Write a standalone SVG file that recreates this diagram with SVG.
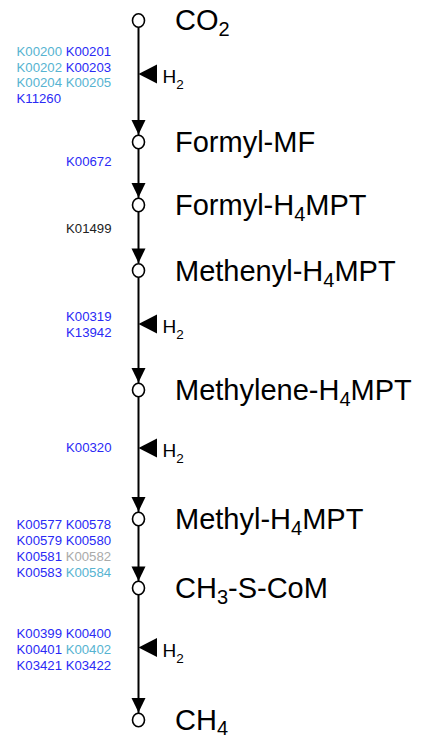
<svg xmlns="http://www.w3.org/2000/svg" width="427" height="738" viewBox="0 0 427 738">
<style>
.node ellipse{fill:#fff;stroke:#000;stroke-width:1.6}
.lbl{font-family:"Liberation Sans",Arial,sans-serif;font-size:29px;fill:#000}
.sub{font-size:20px}
.h2{font-family:"Liberation Sans",Arial,sans-serif;font-size:19px;fill:#000}
.h2s{font-size:13.5px}
.k{font-family:"Liberation Sans",Arial,sans-serif;font-size:13.2px}
.b{fill:#2a2af5}
.l{fill:#56b3d1}
.g{fill:#aaaaaa}
.d{fill:#222222}
.line{stroke:#000;stroke-width:2;fill:none}
.ah{fill:#000}
</style>
<rect width="427" height="738" fill="#fff"/>
<g id="connectors">
<line class="line" x1="138.5" y1="27" x2="138.5" y2="135"/>
<polygon class="ah" points="131.5,120 145.5,120 138.5,134.5"/>
<line class="line" x1="138.5" y1="149" x2="138.5" y2="198"/>
<polygon class="ah" points="131.5,183 145.5,183 138.5,197.5"/>
<line class="line" x1="138.5" y1="212" x2="138.5" y2="263"/>
<polygon class="ah" points="131.5,248.5 145.5,248.5 138.5,263"/>
<line class="line" x1="138.5" y1="277" x2="138.5" y2="383"/>
<polygon class="ah" points="131.5,368 145.5,368 138.5,382.5"/>
<line class="line" x1="138.5" y1="397" x2="138.5" y2="512"/>
<polygon class="ah" points="131.5,497 145.5,497 138.5,511.5"/>
<line class="line" x1="138.5" y1="526" x2="138.5" y2="581"/>
<polygon class="ah" points="131.5,566.5 145.5,566.5 138.5,581"/>
<line class="line" x1="138.5" y1="595" x2="138.5" y2="713"/>
<polygon class="ah" points="131.5,698 145.5,698 138.5,712.5"/>
</g>
<g id="cofactors">
<polygon class="ah" points="138.5,74 157,64.5 157,83.5"/>
<text class="h2" x="162.5" y="83">H<tspan class="h2s" dy="6">2</tspan></text>
<polygon class="ah" points="138.5,324 157,314.5 157,333.5"/>
<text class="h2" x="162.5" y="333">H<tspan class="h2s" dy="6">2</tspan></text>
<polygon class="ah" points="138.5,448 157,438.5 157,457.5"/>
<text class="h2" x="162.5" y="457">H<tspan class="h2s" dy="6">2</tspan></text>
<polygon class="ah" points="138.5,647.5 157,638 157,657"/>
<text class="h2" x="162.5" y="656.5">H<tspan class="h2s" dy="6">2</tspan></text>
</g>
<g id="enzymes">
<text class="k" x="16.5" y="56"><tspan class="l">K00200</tspan> <tspan class="b">K00201</tspan></text>
<text class="k" x="16.5" y="71.5"><tspan class="l">K00202</tspan> <tspan class="b">K00203</tspan></text>
<text class="k" x="16.5" y="87"><tspan class="l">K00204</tspan> <tspan class="l">K00205</tspan></text>
<text class="k b" x="16.5" y="102.5">K11260</text>
<text class="k b" x="111.5" y="166" text-anchor="end">K00672</text>
<text class="k d" x="111.5" y="233" text-anchor="end">K01499</text>
<text class="k b" x="111.5" y="321" text-anchor="end">K00319</text>
<text class="k b" x="111.5" y="337" text-anchor="end">K13942</text>
<text class="k b" x="111.5" y="452" text-anchor="end">K00320</text>
<text class="k" x="16.5" y="529"><tspan class="b">K00577</tspan> <tspan class="b">K00578</tspan></text>
<text class="k" x="16.5" y="545"><tspan class="b">K00579</tspan> <tspan class="b">K00580</tspan></text>
<text class="k" x="16.5" y="561"><tspan class="b">K00581</tspan> <tspan class="g">K00582</tspan></text>
<text class="k" x="16.5" y="577"><tspan class="b">K00583</tspan> <tspan class="l">K00584</tspan></text>
<text class="k" x="16.5" y="638"><tspan class="b">K00399</tspan> <tspan class="b">K00400</tspan></text>
<text class="k" x="16.5" y="654"><tspan class="b">K00401</tspan> <tspan class="l">K00402</tspan></text>
<text class="k" x="16.5" y="670"><tspan class="b">K03421</tspan> <tspan class="b">K03422</tspan></text>
</g>
<g id="n-co2" class="node">
<ellipse cx="138.5" cy="20.5" rx="6" ry="6.8"/>
<text class="lbl" x="175" y="30">CO<tspan class="sub" dy="6">2</tspan></text>
</g>
<g id="n-formyl-mf" class="node">
<ellipse cx="138.5" cy="142" rx="6" ry="6.8"/>
<text class="lbl" x="175" y="152">Formyl-MF</text>
</g>
<g id="n-formyl-h4mpt" class="node">
<ellipse cx="138.5" cy="205" rx="6" ry="6.8"/>
<text class="lbl" x="175" y="215">Formyl-H<tspan class="sub" dy="6">4</tspan><tspan dy="-6">MPT</tspan></text>
</g>
<g id="n-methenyl-h4mpt" class="node">
<ellipse cx="138.5" cy="270.5" rx="6" ry="6.8"/>
<text class="lbl" x="175" y="280.5">Methenyl-H<tspan class="sub" dy="6">4</tspan><tspan dy="-6">MPT</tspan></text>
</g>
<g id="n-methylene-h4mpt" class="node">
<ellipse cx="138.5" cy="390" rx="6" ry="6.8"/>
<text class="lbl" x="175" y="400">Methylene-H<tspan class="sub" dy="6">4</tspan><tspan dy="-6">MPT</tspan></text>
</g>
<g id="n-methyl-h4mpt" class="node">
<ellipse cx="138.5" cy="519" rx="6" ry="6.8"/>
<text class="lbl" x="175" y="529">Methyl-H<tspan class="sub" dy="6">4</tspan><tspan dy="-6">MPT</tspan></text>
</g>
<g id="n-ch3-s-com" class="node">
<ellipse cx="138.5" cy="588" rx="6" ry="6.8"/>
<text class="lbl" x="175" y="598">CH<tspan class="sub" dy="6">3</tspan><tspan dy="-6">-S-CoM</tspan></text>
</g>
<g id="n-ch4" class="node">
<ellipse cx="138.5" cy="720" rx="6" ry="6.8"/>
<text class="lbl" x="175" y="729.5">CH<tspan class="sub" dy="5">4</tspan></text>
</g>
</svg>
